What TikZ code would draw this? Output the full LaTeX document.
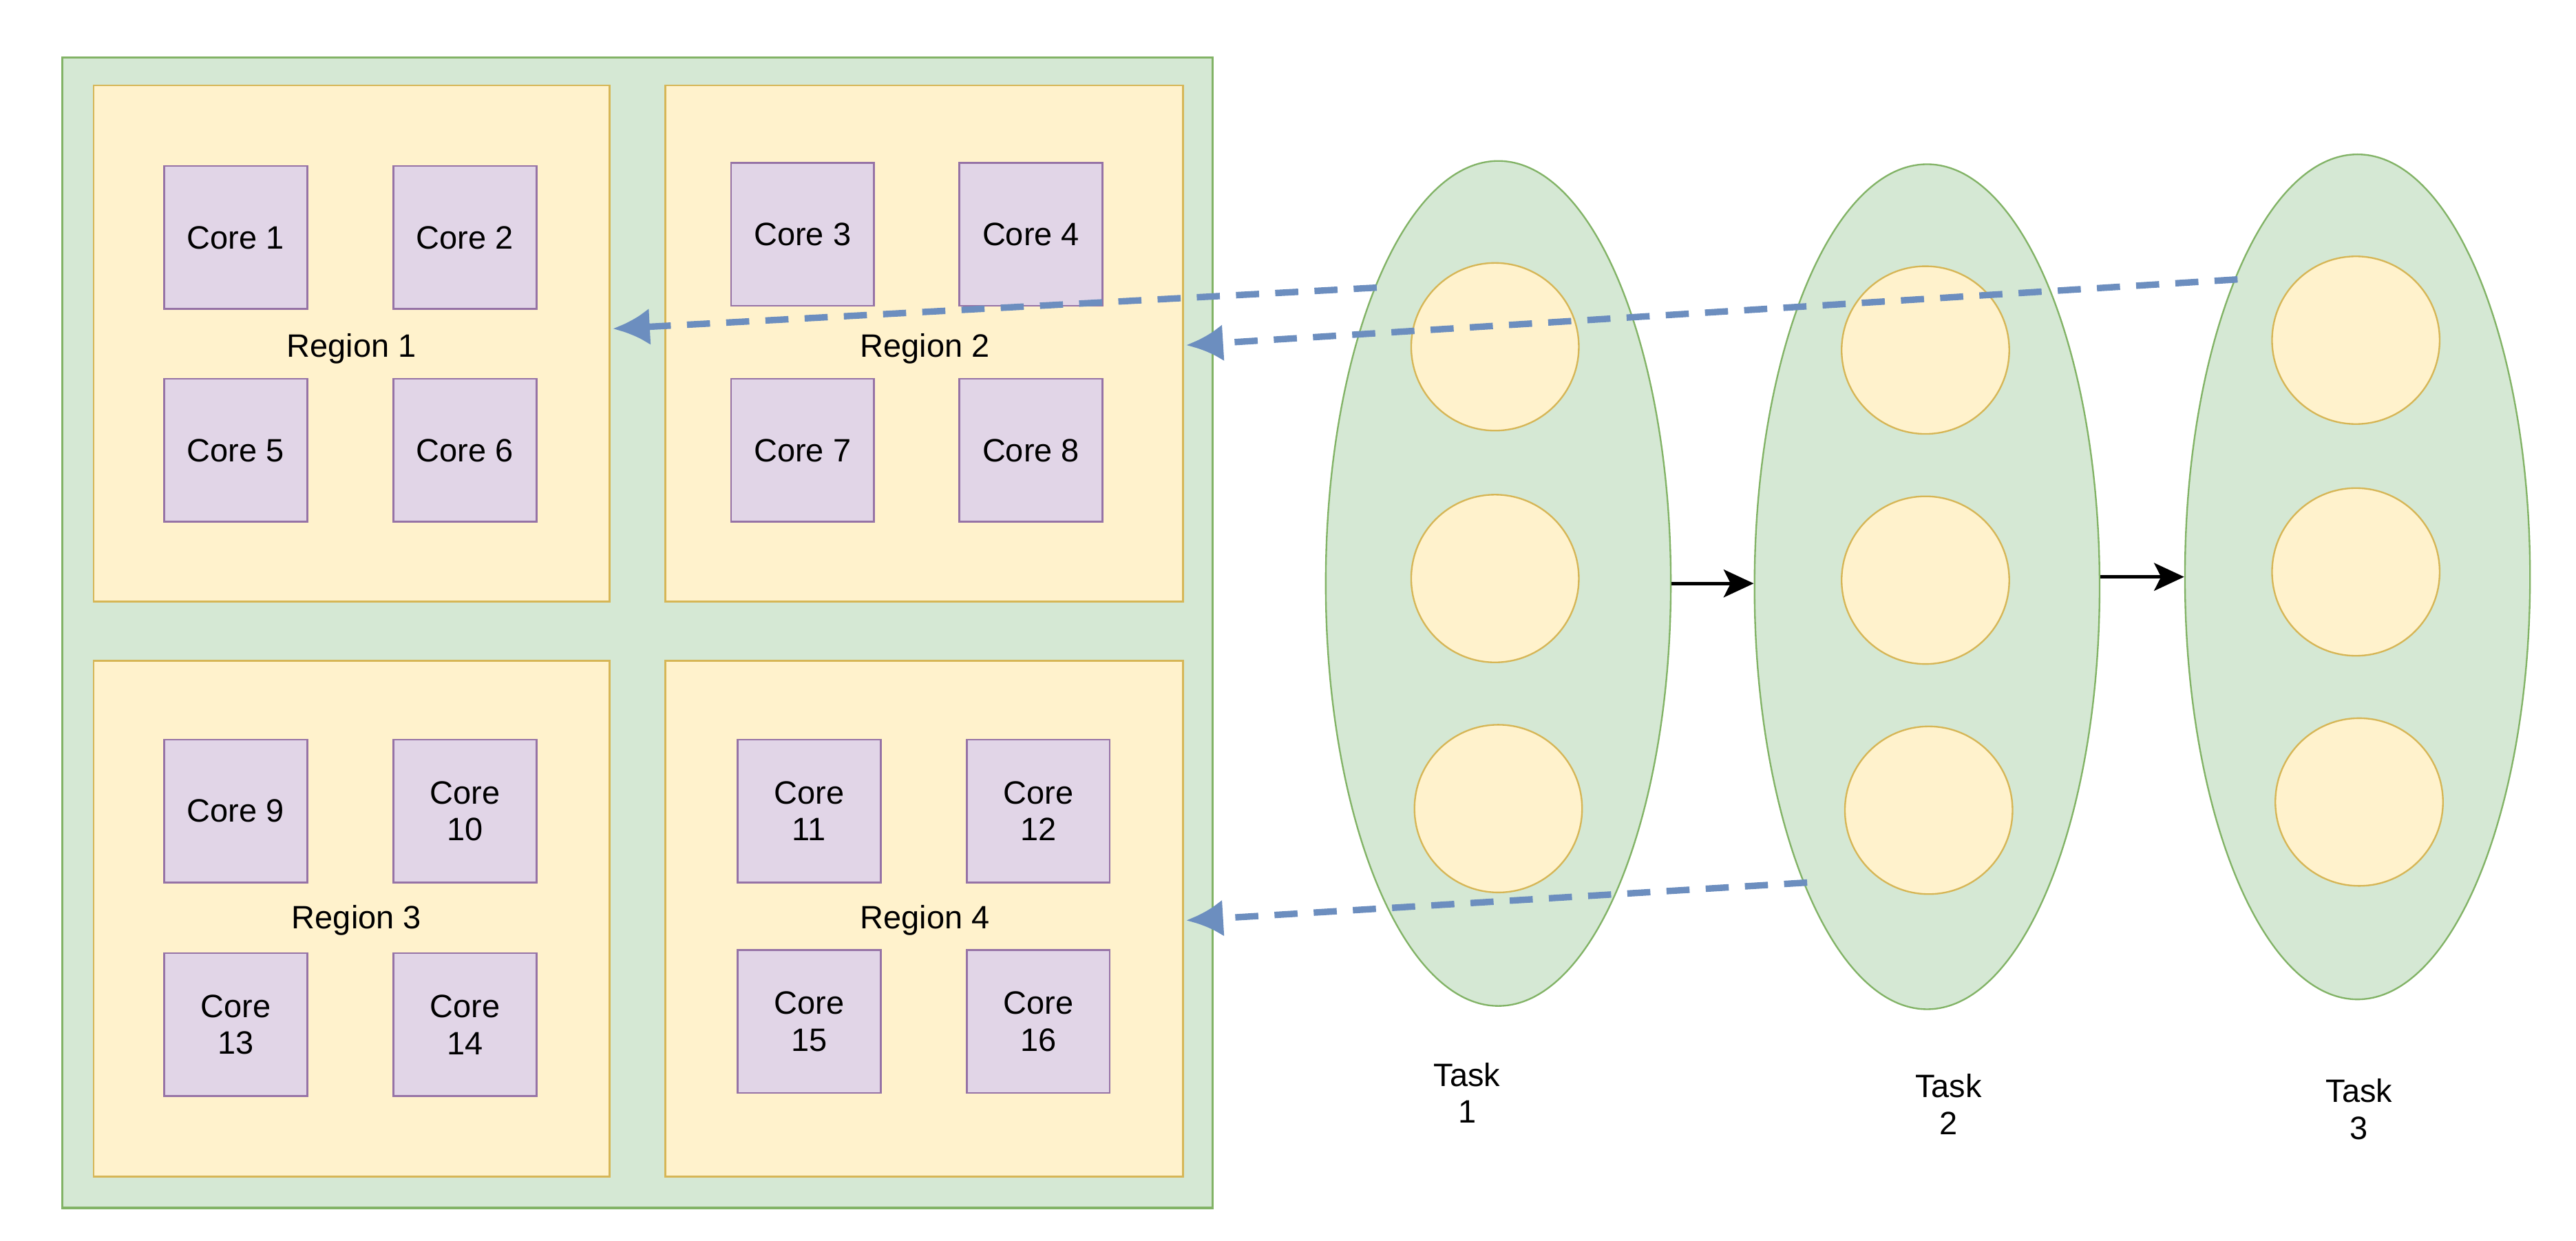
\documentclass[tikz,border=0pt]{standalone}
\usepackage{fontspec}
\setmainfont{Liberation Sans}
\usetikzlibrary{arrows.meta,shapes.geometric}
\definecolor{gfill}{HTML}{D5E8D4}\definecolor{gline}{HTML}{82B366}
\definecolor{yfill}{HTML}{FFF2CC}\definecolor{yline}{HTML}{D6B656}
\definecolor{pfill}{HTML}{E1D5E7}\definecolor{pline}{HTML}{9673A6}
\definecolor{bline}{HTML}{6C8EBF}
\begin{document}
\begin{tikzpicture}[x=0.025cm,y=-0.025cm,
 region/.style={draw=yline,fill=yfill,line width=0.8pt},
 core/.style={draw=pline,fill=pfill,line width=0.8pt,minimum width=2.175cm,minimum height=2.175cm,align=center,font=\fontsize{14}{16}\selectfont,inner sep=0pt},
 task/.style={ellipse,draw=gline,fill=gfill,line width=0.7pt,minimum width=5.25cm,minimum height=12.85cm,inner sep=0pt},
 job/.style={circle,draw=yline,fill=yfill,line width=0.7pt,minimum size=2.55cm,inner sep=0pt},
 lbl/.style={font=\fontsize{14}{16}\selectfont,align=center},
 map/.style={draw=bline,line width=2.8pt,dash pattern=on 10pt off 7pt,-{Latex[length=16pt,width=16pt]}},
 flow/.style={draw=black,line width=1.6pt,-{Stealth[length=13pt,width=12pt,inset=3pt]}}]
\useasboundingbox (0,0) rectangle (1568,755);
\fill[gfill,draw=gline,line width=1pt] (38,35) rectangle (738,735);
\path[region] (57,52) rectangle (371,366);
\path[region] (405,52) rectangle (720,366);
\path[region] (57,402) rectangle (371,716);
\path[region] (405,402) rectangle (720,716);
\coordinate (r1) at (373,200); \coordinate (r2) at (722,210); \coordinate (r4) at (722,560);
\node[core] (c1) at (143.5,144.5) {Core 1};
\node[core] (c2) at (283,144.5) {Core 2};
\node[core] (c5) at (143.5,274) {Core 5};
\node[core] (c6) at (283,274) {Core 6};
\node[core] (c3) at (488.5,142.5) {Core 3};
\node[core] (c4) at (627.5,142.5) {Core 4};
\node[core] (c7) at (488.5,274) {Core 7};
\node[core] (c8) at (627.5,274) {Core 8};
\node[core] (c9) at (143.5,493.5) {Core 9};
\node[core] (c10) at (283,493.5) {Core\\10};
\node[core] (c13) at (143.5,623.5) {Core\\13};
\node[core] (c14) at (283,623.5) {Core\\14};
\node[core] (c11) at (492.5,493.5) {Core\\11};
\node[core] (c12) at (632,493.5) {Core\\12};
\node[core] (c15) at (492.5,621.5) {Core\\15};
\node[core] (c16) at (632,621.5) {Core\\16};
\node[lbl] (l1) at (214,212) {Region 1};
\node[lbl] (l2) at (563,212) {Region 2};
\node[lbl] (l3) at (217,560) {Region 3};
\node[lbl] (l4) at (563,560) {Region 4};
\node[task] (t1) at (912,355) {};
\node[task] (t2) at (1173,357) {};
\node[task] (t3) at (1435,351) {};
\node[job] (a1) at (910,211) {}; \node[job] (a2) at (910,352) {}; \node[job] (a3) at (912,492) {};
\node[job] (b1) at (1172,213) {}; \node[job] (b2) at (1172,353) {}; \node[job] (b3) at (1174,493) {};
\node[job] (d1) at (1434,207) {}; \node[job] (d2) at (1434,348) {}; \node[job] (d3) at (1436,488) {};
\node[lbl] (tl1) at (893,665) {Task\\1};
\node[lbl] (tl2) at (1186,672) {Task\\2};
\node[lbl] (tl3) at (1436,675) {Task\\3};
\draw[flow] (t1.east) -- (t2.west |- t1.east);
\draw[flow] (t2.east |- t3.west) -- (t3.west);
\coordinate (s1) at (838,175); \coordinate (s3) at (1362,170); \coordinate (s2) at (1100,537);
\draw[map] (s1) -- (r1);
\draw[map] (s3) -- (r2);
\draw[map] (s2) -- (r4);
\end{tikzpicture}
\end{document}
